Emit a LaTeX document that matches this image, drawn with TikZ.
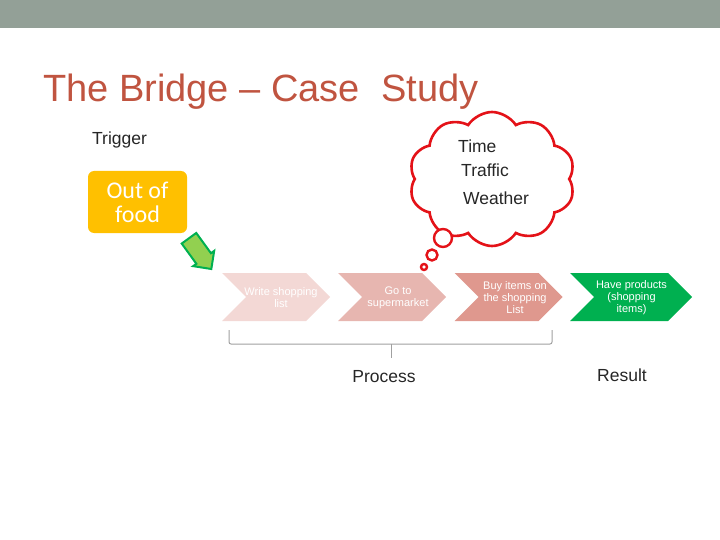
\documentclass[tikz,border=0pt]{standalone}
\usepackage{fontspec}
\setmainfont{Liberation Sans}
\newfontfamily\calibri{Carlito}
\usetikzlibrary{shapes.symbols,shapes.arrows}

\definecolor{bargray}{RGB}{147,160,151}
\definecolor{titlered}{RGB}{192,84,64}
\definecolor{triggerorange}{RGB}{255,192,0}
\definecolor{cuefill}{RGB}{146,208,80}
\definecolor{cueedge}{RGB}{0,176,80}
\definecolor{stepone}{RGB}{243,216,213}
\definecolor{steptwo}{RGB}{231,182,176}
\definecolor{stepthree}{RGB}{223,152,142}
\definecolor{stepdone}{RGB}{0,176,80}
\definecolor{thoughtred}{RGB}{228,18,24}
\definecolor{bracegray}{RGB}{160,160,160}
\definecolor{textgray}{RGB}{38,38,38}

\tikzset{
  chevron/.style={signal, signal to=east, signal from=west, signal pointer angle=90,
    minimum height=48pt, minimum width=108pt, inner sep=0pt},
  steptext/.style={text=white, inner sep=0pt, align=center,
    font=\fontsize{11}{12}\selectfont},
  bubble/.style={circle, draw=thoughtred, line width=2.4pt, fill=white, inner sep=0pt},
  label/.style={text=textgray, font=\fontsize{17.5}{21}\selectfont}
}

\begin{document}
\begin{tikzpicture}[x=1pt,y=-1pt]
  \useasboundingbox (0,0) rectangle (720,540);
  \fill[bargray] (0,0) rectangle (720,28);

  \node[anchor=base west, inner sep=0pt, text=titlered, font=\fontsize{38}{44}\selectfont]
    (title) at (43,102) {The Bridge -- Case\ \ Study};

  \node[label, anchor=west, inner sep=0pt] (trigger) at (92,140) {Trigger};

  \node[fill=triggerorange, rounded corners=6pt, minimum width=99pt, minimum height=62pt,
    inner sep=0pt, text=white, align=center, font=\calibri\fontsize{24}{24}\selectfont]
    (food) at (137.5,202) {Out of\\food};

  \node[single arrow, fill=cuefill, draw=cueedge, line width=2pt, minimum height=38pt,
    single arrow head extend=4pt, single arrow head indent=0pt,
    inner sep=8pt, rotate=-54] (cue) at (197.5,250) {};

  \begin{scope}[every node/.style={chevron}]
    \node[fill=stepone]   (write) at (276,297) {};
    \node[fill=steptwo]   (go)    at (392,297) {};
    \node[fill=stepthree] (buy)   at (508.5,297) {};
    \node[fill=stepdone, minimum width=122pt] (have) at (631,297) {};
  \end{scope}

  \begin{scope}[every node/.style={steptext}]
    \node (writetext) at (281,298) {Write shopping\\list};
    \node (gotext)    at (398,298) {Go to\\supermarket};
    \node (buytext)   at (515,298) {Buy items on\\the shopping\\List};
    \node (havetext)  at (631.5,298) {Have products\\(shopping\\items)};
  \end{scope}

  \node[cloud, draw=thoughtred, line width=2.6pt, fill=white, cloud puffs=10,
    cloud puff arc=115, aspect=1.3, minimum width=166pt, minimum height=134pt]
    (thought) at (492,179) {};
  \node[bubble, minimum size=18pt] (puffbig)   at (443,238) {};
  \node[bubble, minimum size=11pt] (puffmid)   at (432,255) {};
  \node[bubble, minimum size=6pt]  (puffsmall) at (424,267) {};

  \node[label, anchor=base west, inner sep=0pt] (time)    at (458,153) {Time};
  \node[label, anchor=base west, inner sep=0pt] (traffic) at (461,177) {Traffic};
  \node[label, anchor=base west, inner sep=0pt] (weather) at (463,205) {Weather};

  \coordinate (braceleft)  at (229,330);
  \coordinate (braceright) at (552,330);
  \coordinate (bracemid)   at (391,344);
  \draw[bracegray, line width=1pt, rounded corners=2pt]
    (braceleft) -- (229,344) -- (552,344) -- (braceright);
  \draw[bracegray, line width=1pt] (bracemid) -- (391,358);

  \node[label] (process) at (384,377) {Process};
  \node[label] (result)  at (622,375) {Result};
\end{tikzpicture}
\end{document}
